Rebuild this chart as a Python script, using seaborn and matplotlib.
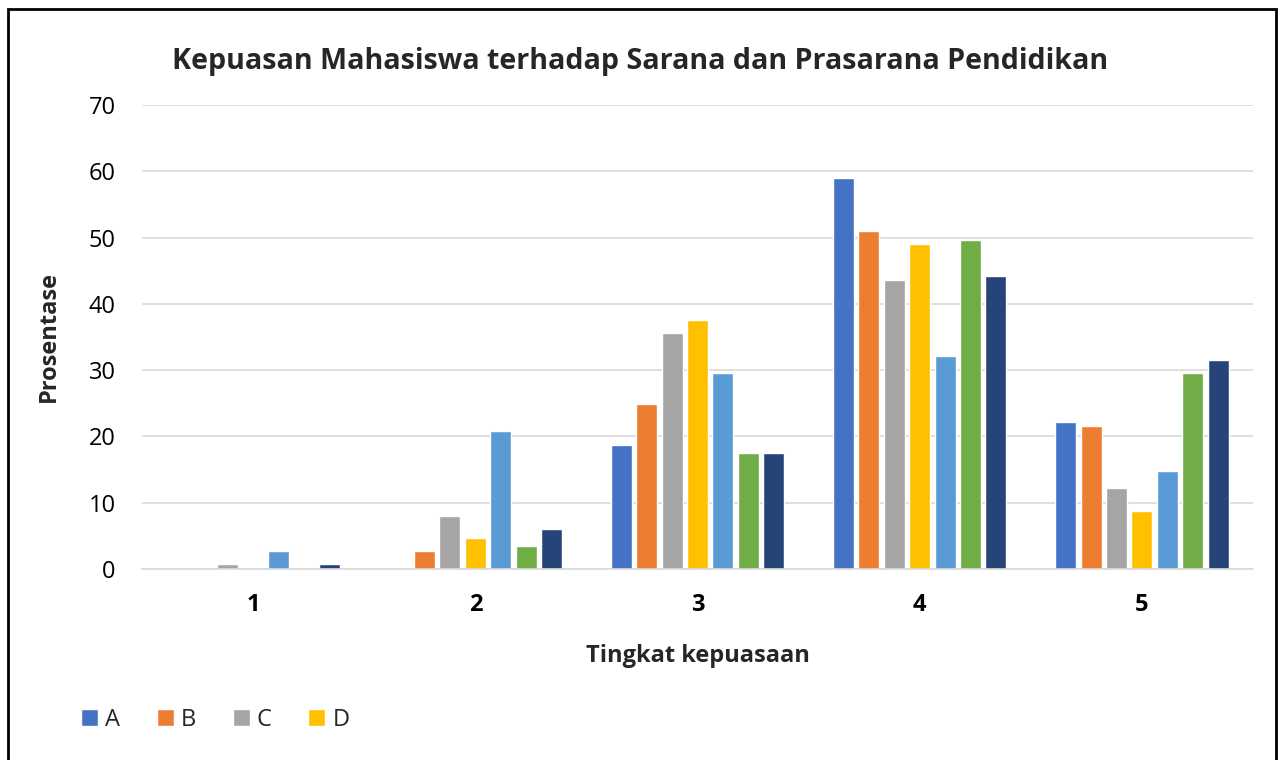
import matplotlib
matplotlib.use("Agg")
import matplotlib.pyplot as plt
from matplotlib.patches import Rectangle
import pandas as pd
import seaborn as sns

# -----------------------------
# Data
# -----------------------------
tingkat = ["1", "2", "3", "4", "5"]
seri = ["A", "B", "C", "D", "E", "F", "G"]
nilai_A = [0.0, 0.0, 18.7, 59.0, 22.2]
nilai_B = [0.0, 2.7, 24.9, 51.0, 21.6]
nilai_C = [0.7, 8.0, 35.6, 43.6, 12.2]
nilai_D = [0.0, 4.7, 37.6, 49.0, 8.7]
nilai_E = [2.7, 20.8, 29.6, 32.1, 14.8]
nilai_F = [0.0, 3.4, 17.5, 49.6, 29.6]
nilai_G = [0.7, 6.1, 17.5, 44.2, 31.5]
warna = ["#4472C4", "#ED7D31", "#A5A5A5", "#FFC000", "#5B9BD5", "#70AD47", "#264478"]

semua = [nilai_A, nilai_B, nilai_C, nilai_D, nilai_E, nilai_F, nilai_G]
rows = []
for s, vals in zip(seri, semua):
    for t, v in zip(tingkat, vals):
        rows.append({"Tingkat": t, "Seri": s, "Nilai": v})
df = pd.DataFrame(rows)

# -----------------------------
# Plot
# -----------------------------
sns.set_theme(style="white")
plt.rcParams["font.family"] = ["Open Sans", "DejaVu Sans"]

fig = plt.figure(figsize=(12.8, 7.6), dpi=100)
ax = fig.add_axes([142 / 1280, 1 - 569 / 760, (1253 - 142) / 1280, (569 - 105) / 760])

sns.barplot(data=df, x="Tingkat", y="Nilai", hue="Seri", order=tingkat,
            hue_order=seri, palette=warna, width=0.8, gap=0.17,
            saturation=1, ax=ax, legend=True)

ax.set_ylim(0, 70)
ax.set_yticks(range(0, 71, 10))
ax.yaxis.grid(True, color="#D9D9D9", lw=1.2)
ax.set_axisbelow(True)
for side in ["top", "right", "left"]:
    ax.spines[side].set_visible(False)
ax.spines["bottom"].set_color("#D9D9D9")
ax.spines["bottom"].set_linewidth(1.2)
ax.tick_params(axis="both", length=0, labelsize=17, colors="black")
ax.tick_params(axis="y", pad=19)
ax.tick_params(axis="x", pad=17)
for lbl in ax.get_xticklabels():
    lbl.set_fontweight("bold")

ax.set_xlabel("Tingkat kepuasaan", fontsize=17, fontweight="bold", labelpad=20)
ax.set_ylabel("Prosentase", fontsize=17, fontweight="bold", labelpad=20)

fig.text(0.5, 1 - 62 / 760, "Kepuasan Mahasiswa terhadap Sarana dan Prasarana Pendidikan",
         ha="center", va="center", fontsize=20.6, fontweight="bold")

handles, labels = ax.get_legend_handles_labels()
ax.get_legend().remove()
fig.legend(handles[:4], labels[:4], loc="center left", bbox_to_anchor=(60 / 1280, 1 - 720 / 760),
           ncol=4, frameon=False, fontsize=17, handlelength=0.72, handleheight=0.72,
           handletextpad=0.3, columnspacing=1.55)

# bingkai luar
fig.patches.append(Rectangle((8 / 1280, -0.05), (1276 - 8) / 1280, 1 - 9 / 760 + 0.05,
                             transform=fig.transFigure, fill=False, ec="black", lw=2))

fig.savefig("out.png", dpi=100)
